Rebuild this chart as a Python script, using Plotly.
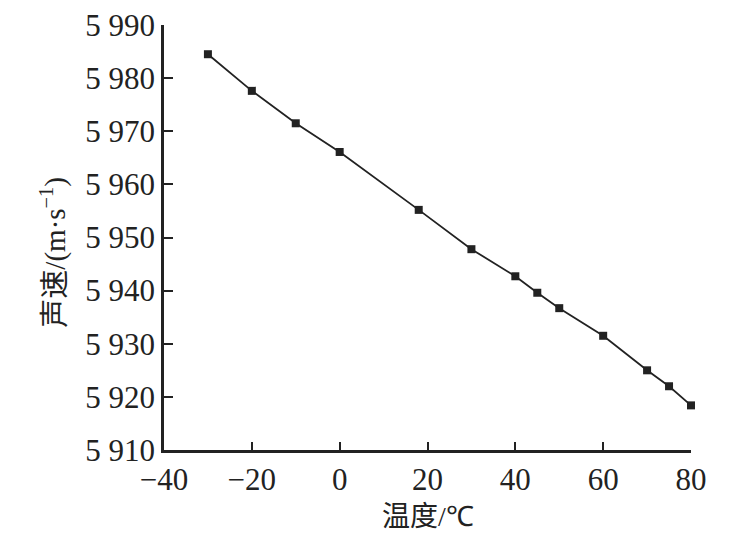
import plotly.graph_objects as go

temperature = [-30, -20, -10, 0, 18, 30, 40, 45, 50, 60, 70, 75, 80]
sound_speed = [5984.5, 5977.6, 5971.5, 5966.1, 5955.2, 5947.8, 5942.7, 5939.6,
               5936.7, 5931.5, 5925.0, 5922.0, 5918.4]

x_ticks = [-40, -20, 0, 20, 40, 60, 80]
y_ticks = [5910, 5920, 5930, 5940, 5950, 5960, 5970, 5980, 5990]
y_tick_text = ["5 910", "5 920", "5 930", "5 940", "5 950", "5 960", "5 970", "5 980", "5 990"]

serif = "Liberation Serif"
cjk = "Noto Sans CJK SC"
ink = "#222222"

x_title = ('温度<span style="font-family:Liberation Serif">/℃</span>')
y_title = ('声速<span style="font-family:Liberation Serif">/(m·s<sup>−1</sup>)</span>')

fig = go.Figure()
fig.add_trace(go.Scatter(
    x=temperature, y=sound_speed, mode="lines+markers",
    line=dict(color=ink, width=1.8),
    marker=dict(symbol="square", size=8, color=ink),
    cliponaxis=False, showlegend=False,
))

fig.update_layout(
    width=740, height=526,
    margin=dict(l=156, r=57, t=17, b=84),
    paper_bgcolor="white", plot_bgcolor="white",
    font=dict(family=serif, color=ink),
    xaxis=dict(
        range=[-40, 80], tickvals=x_ticks, ticks="inside", ticklen=8, tickwidth=2,
        tickcolor=ink, showline=True, linecolor=ink, linewidth=2.5, showgrid=False,
        zeroline=False, tickfont=dict(family=serif, size=31, color=ink),
        automargin=False, ticklabeloverflow="allow",
    ),
    yaxis=dict(
        range=[5910, 5990], tickvals=y_ticks, ticktext=y_tick_text, ticks="inside",
        ticklen=9, tickwidth=2, tickcolor=ink, showline=True, linecolor=ink,
        linewidth=2.5, showgrid=False, zeroline=False,
        tickfont=dict(family=serif, size=31, color=ink),
        automargin=False, ticklabeloverflow="allow",
    ),
    annotations=[
        dict(text=x_title, x=0.5, y=-0.15, xref="paper", yref="paper",
             xanchor="center", yanchor="middle", showarrow=False,
             font=dict(family=cjk, size=28, color=ink)),
        dict(text=y_title, x=-0.212, y=0.465, xref="paper", yref="paper",
             xanchor="center", yanchor="middle", showarrow=False, textangle=-90,
             font=dict(family=cjk, size=29, color=ink)),
    ],
)

fig.write_html("out.html")
